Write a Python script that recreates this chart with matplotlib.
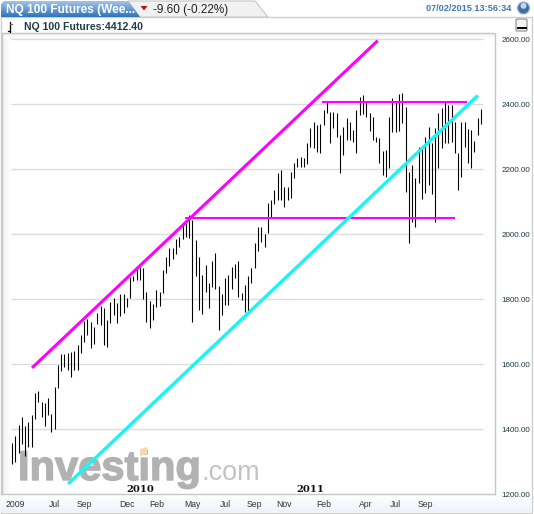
import numpy as np
from matplotlib import pyplot as plt
from matplotlib import patheffects
from matplotlib.patches import Polygon, Rectangle, Circle, FancyBboxPatch

plt.rcParams['font.family'] = ['Liberation Sans', 'DejaVu Sans']

# weekly highs and lows
highs = [1358, 1378, 1412, 1436, 1409, 1423, 1442, 1512, 1517, 1484,
         1479, 1494, 1446, 1528, 1597, 1631, 1631, 1635, 1638, 1640,
         1658, 1689, 1733, 1740, 1730, 1713, 1756, 1778, 1771, 1735,
         1792, 1802, 1787, 1814, 1814, 1802, 1867, 1871, 1894, 1899,
         1894, 1822, 1794, 1785, 1828, 1822, 1889, 1930, 1956, 1958,
         1984, 1992, 2028, 2035, 2058, 2043, 1981, 1930,
         1874, 1905, 1848, 1918, 1941, 1840, 1815, 1864, 1874, 1900,
         1908, 1917, 1820, 1843, 1871, 1894, 1971, 2021, 2023, 2000,
         2096, 2105, 2135,
         2187, 2197, 2146, 2146, 2192, 2219, 2233, 2238, 2235, 2281,
         2325, 2346, 2335, 2340, 2381, 2407, 2376, 2376, 2371, 2305,
         2330, 2356, 2346, 2320, 2381, 2422, 2428, 2410, 2371, 2361,
         2300, 2295,
         2255, 2258, 2361, 2420, 2408, 2430, 2433, 2392, 2190, 2212,
         2171, 2269, 2269, 2300, 2330, 2279, 2325, 2371, 2387, 2405,
         2397, 2397, 2346, 2248, 2346, 2344, 2323, 2320, 2286, 2357,
         2385]
lows = [1292, 1300, 1325, 1354, 1318, 1344, 1344, 1430, 1484, 1438,
        1410, 1443, 1392, 1399, 1525, 1580, 1590, 1583, 1561, 1583,
        1583, 1633, 1667, 1689, 1648, 1661, 1722, 1720, 1658, 1651,
        1727, 1751, 1725, 1749, 1756, 1776, 1802, 1856, 1860, 1858,
        1800, 1730, 1710, 1735, 1776, 1778, 1817, 1881, 1901, 1922,
        1938, 1959, 1984, 1990, 1987, 1730, 1871, 1766,
        1754, 1823, 1771, 1838, 1830, 1705, 1751, 1782, 1782, 1830,
        1864, 1805, 1797, 1761, 1756, 1850, 1894, 1949, 1976, 1959,
        2002, 2051, 2092,
        2105, 2105, 2082, 2105, 2110, 2171, 2205, 2205, 2207, 2215,
        2267, 2264, 2253, 2248, 2335, 2371, 2279, 2325, 2299, 2189,
        2243, 2289, 2289, 2284, 2250, 2366, 2369, 2361, 2318, 2289,
        2284, 2217,
        2182, 2176, 2202, 2315, 2315, 2317, 2341, 2128, 1971, 2036,
        2023, 2156, 2108, 2125, 2151, 2122, 2036, 2202, 2266, 2279,
        2279, 2284, 2248, 2135, 2176, 2269, 2217, 2204, 2253, 2305,
        2338]

price_ticks = [1200, 1400, 1600, 1800, 2000, 2200, 2400, 2600]
date_ticks = [1, 13, 22, 35, 44, 55, 65, 74, 83, 95, 108, 117, 126]
date_labels = ['2009', 'Jul', 'Sep', 'Dec', 'Feb', 'May', 'Jul', 'Sep', 'Nov',
               'Feb', 'Apr', 'Jul', 'Sep']
year_ticks = [39, 91]
year_labels = ['2010', '2011']

# drawn trend lines, as (bar index, price) pairs
upper_channel = ([6.1, 111.5], [1588, 2595])
lower_channel = ([17.1, 142], [1231, 2426])
resistance = ([94.6, 138.6], [2407, 2407])
support = ([52.7, 135], [2050, 2050])

W, H = 534, 514
fig = plt.figure(figsize=(W / 100, H / 100), dpi=100, facecolor='white')

# page furniture in pixel coordinates
page = fig.add_axes([0, 0, 1, 1])


def gradient(x0, x1, y0, y1, c0, c1, vertical=True, clip=None):
    c0 = np.array(plt.matplotlib.colors.to_rgb(c0))
    c1 = np.array(plt.matplotlib.colors.to_rgb(c1))
    t = np.linspace(0, 1, 32)[:, None]
    img = (c0 * (1 - t) + c1 * t)[:, None, :] if vertical else (c0 * (1 - t) + c1 * t)[None, :, :]
    im = page.imshow(img, extent=(x0, x1, y1, y0), aspect='auto', zorder=1.2, interpolation='bilinear')
    if clip is not None:
        im.set_clip_path(clip)
    return im


# panel borders
page.add_patch(Rectangle((0.5, 17), 531.5, 496, fc='white', ec='#cfcfcf', lw=1, zorder=0))
gradient(2, 11, 33, 494, '#f1f1f1', '#ffffff', vertical=False)
gradient(2, 495, 33, 39, '#f1f1f1', '#ffffff')
page.add_patch(Rectangle((11, 39), 472, 455, fc='white', ec='none', zorder=1.3))
gradient(1, 531, 495, 512, '#ffffff', '#edf2fb')
page.plot([1.5, 1.5, 495, 495], [494, 33, 33, 494], color='#c6c6c6', lw=1, zorder=2)
page.plot([1, 495], [494, 494], color='#c6c6c6', lw=1, zorder=2)

# tabs
page.add_patch(Polygon([(128, 1), (255, 1), (268, 17), (140, 17)], closed=True, fc='#f1f1f1', ec='#c8c8c8',
                       lw=0.8, zorder=1))
blue_tab = Polygon([(1, 17), (1, 4), (4, 1), (128, 1), (140, 17)], closed=True, fc='none', ec='none',
                   transform=page.transData)
page.add_patch(blue_tab)
gradient(1, 140, 1, 17, '#a3c3e8', '#2f74bd', clip=blue_tab)
page.add_patch(Polygon([(140.5, 6), (147.5, 6), (144, 10.5)], closed=True, fc='#b01818', ec='none', zorder=2))
page.text(6, 10, 'NQ 100 Futures (Wee...', color='white', fontsize=8.6, fontweight='bold', va='center',
          zorder=3)
page.text(153, 10, '-9.60 (-0.22%)', color='#222222', fontsize=8.5, va='center', zorder=3)
page.text(511, 8.5, '07/02/2015 13:56:34', color='#3f78b4', fontsize=6.6, fontweight='bold', ha='right',
          va='center', zorder=3)
page.add_patch(Circle((523.5, 8), 6, fc='#3c6ea8', ec='#9fb6cf', lw=0.8, zorder=3))
page.add_patch(Circle((523.5, 5.8), 3, fc='#c3d6ea', ec='none', zorder=3))

# legend row
page.text(24.5, 26.5, 'NQ 100 Futures:4412.40', color='#1f3f4a', fontsize=7.6, fontweight='bold', va='center',
          zorder=3)
page.plot([9.5, 9.5], [22, 32], color='black', lw=0.9, zorder=3)
page.plot([7.5, 9.5], [31, 31], color='black', lw=0.9, zorder=3)
page.plot([9.5, 12], [24, 24], color='#666666', lw=0.9, zorder=3)
page.add_patch(FancyBboxPatch((517, 20), 9, 10, boxstyle='round,pad=1', fc='#f2f2f2', ec='#8a8a8a', lw=0.8,
                              zorder=3))
page.plot([518, 526], [28, 28], color='black', lw=1.4, zorder=4)

# watermark
logo = page.text(18, 480, 'Investing', color='#b2b2b2', fontsize=30, fontweight='bold', va='baseline',
                 zorder=2.5)
logo.set_path_effects([patheffects.withStroke(linewidth=1.0, foreground='#b2b2b2')])
page.text(201, 480, '.com', color='#c4c4c4', fontsize=19.5, va='baseline', zorder=2.5)
page.add_patch(Polygon([(140, 449), (147, 447), (147, 454), (140, 456)], closed=True, fc='#f7d9a8', ec='none',
                       zorder=2.6))

page.set_xlim(0, W)
page.set_ylim(H, 0)
page.axis('off')

# chart axes, scaled so that one bar takes 3.28 px and 200 points take 65 px
left, right, top, bottom = 1.5, 495, 33, 494.3
ax = fig.add_axes([left / W, 1 - bottom / H, (right - left) / W, (bottom - top) / H])
ax.patch.set_alpha(0)
ax.set_xlim((left - 12) / 3.28, (right - 12) / 3.28)
ax.set_ylim(2600 - (bottom - 39) * 200 / 65, 2600 - (top - 39) * 200 / 65)
for s in ax.spines.values():
    s.set_visible(False)

bars = np.arange(len(highs))
ax.hlines(price_ticks[1:], -0.3, 143.6, color='#dcdcdc', lw=1, zorder=1)
ax.vlines(bars, lows, highs, color='black', lw=0.78, zorder=2)

ax.plot(*upper_channel, color='#ff00ff', lw=2.2, solid_capstyle='butt', zorder=3)
ax.plot(*lower_channel, color='#19f5f5', lw=2.4, solid_capstyle='butt', zorder=4)
ax.plot(*resistance, color='#ff00ff', lw=1.5, solid_capstyle='butt', zorder=3)
ax.plot(*support, color='#ff00ff', lw=1.5, solid_capstyle='butt', zorder=3)

ax.yaxis.tick_right()
ax.set_yticks(price_ticks)
ax.set_yticklabels(['%.2f' % p for p in price_ticks])
ax.tick_params(axis='y', length=0, pad=4.8, labelsize=5.8, labelcolor='#1f3640')
ax.set_xticks(date_ticks)
ax.set_xticklabels(date_labels)
ax.tick_params(axis='x', length=0, pad=4, labelsize=6.2, labelcolor='#333333')
for i, lab in zip(year_ticks, year_labels):
    ax.annotate(lab, (i, 0), xycoords=('data', 'axes fraction'), xytext=(0, 0), textcoords='offset points',
                ha='center', va='bottom', family='DejaVu Serif', fontweight='bold', fontsize=7.2, color='#111111')

fig.savefig('out.png', dpi=100)
